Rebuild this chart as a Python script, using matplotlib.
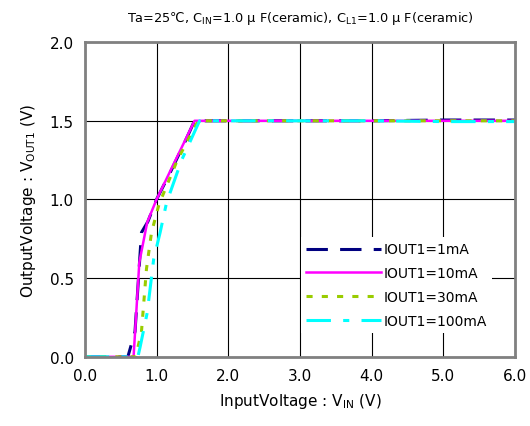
import matplotlib.pyplot as plt

# ---------- data ----------
vin_1 = [0.0, 0.60, 0.70, 0.79, 0.88, 1.00, 1.20, 1.40, 1.53, 2.0, 3.0, 4.0, 5.0, 6.0]
vout_1 = [0.0, 0.0, 0.16, 0.79, 0.86, 1.00, 1.18, 1.37, 1.50, 1.50, 1.50, 1.50, 1.505, 1.505]

vin_10 = [0.0, 0.68, 0.72, 0.76, 0.87, 1.00, 1.265, 1.53, 2.0, 3.0, 4.0, 5.0, 6.0]
vout_10 = [0.0, 0.0, 0.30, 0.60, 0.855, 1.00, 1.25, 1.50, 1.50, 1.50, 1.50, 1.50, 1.50]

vin_30 = [0.0, 0.71, 0.79, 0.86, 0.93, 1.035, 1.29, 1.58, 2.0, 3.0, 4.0, 5.0, 6.0]
vout_30 = [0.0, 0.0, 0.16, 0.56, 0.79, 0.97, 1.25, 1.50, 1.50, 1.50, 1.50, 1.50, 1.50]

vin_100 = [0.0, 0.74, 0.77, 0.87, 0.96, 1.05, 1.14, 1.35, 1.60, 2.0, 3.0, 4.0, 5.0, 6.0]
vout_100 = [0.0, 0.0, 0.06, 0.28, 0.62, 0.79, 0.98, 1.25, 1.50, 1.50, 1.50, 1.50, 1.495, 1.495]

xticks = [0, 1, 2, 3, 4, 5, 6]
yticks = [0.0, 0.5, 1.0, 1.5, 2.0]

# ---------- plot ----------
fig = plt.figure(figsize=(5.30, 4.27), dpi=100)
ax = fig.add_axes([0.160, 0.162, 0.812, 0.737])

ax.plot(vin_1, vout_1, color='#000080', lw=2.2, dashes=(7, 4), label='IOUT1=1mA')
ax.plot(vin_10, vout_10, color='#ff00ff', lw=1.8, label='IOUT1=10mA')
ax.plot(vin_30, vout_30, color='#99cc00', lw=2.2, dashes=(2, 3), label='IOUT1=30mA')
ax.plot(vin_100, vout_100, color='#00ffff', lw=2.2, dashes=(8, 4, 2, 4), label='IOUT1=100mA')

ax.set_xlim(0, 6)
ax.set_ylim(0, 2)
ax.set_xticks(xticks)
ax.set_yticks(yticks)
ax.set_xticklabels([f'{v:.1f}' for v in xticks])
ax.set_yticklabels([f'{v:.1f}' for v in yticks])
ax.tick_params(length=0, labelsize=11, pad=8)
ax.grid(True, color='black', lw=0.8)
ax.set_axisbelow(True)
for sp in ax.spines.values():
    sp.set_color('#808080')
    sp.set_linewidth(2)

ax.set_xlabel('InputVoltage : V$_{\\mathrm{IN}}$ (V)', fontsize=11, labelpad=6)
ax.set_ylabel('OutputVoltage : V$_{\\mathrm{OUT1}}$ (V)', fontsize=11, labelpad=8)
ax.set_title('Ta=25\u2103, C$_{\\mathrm{IN}}$=1.0 \u03bc F(ceramic), C$_{\\mathrm{L1}}$=1.0 \u03bc F(ceramic)',
             fontsize=9.3, pad=15)

leg = ax.legend(loc='center left', bbox_to_anchor=(0.502, 0.228), borderaxespad=0,
                fontsize=10, handlelength=5.4, handletextpad=0.15, labelspacing=0.7,
                frameon=True, fancybox=False, edgecolor='none', facecolor='white', framealpha=1)

plt.savefig('out.png', dpi=100)
